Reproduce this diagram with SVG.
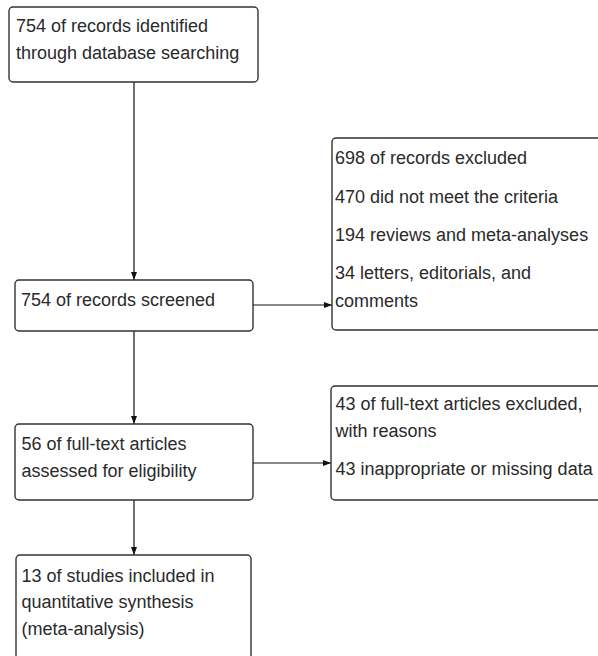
<svg xmlns="http://www.w3.org/2000/svg" width="598" height="656" viewBox="0 0 598 656">
<defs>
<style>
.box{fill:#fff;stroke:#333;stroke-width:1.4}
.t{font-family:"Liberation Sans",Arial,sans-serif;font-size:18px;fill:#2a2a2a}
.c{stroke:#111;stroke-width:1.2;fill:none}
</style>
<marker id="ah" markerWidth="8" markerHeight="8" refX="8" refY="4" orient="auto" markerUnits="userSpaceOnUse">
<path d="M0,1 L8,4 L0,7 Z" fill="#111"/>
</marker>
</defs>
<rect width="598" height="656" fill="#fff"/>
<g id="connectors">
<line class="c" x1="134" y1="82" x2="134" y2="280" marker-end="url(#ah)"/>
<line class="c" x1="253" y1="305" x2="332" y2="305" marker-end="url(#ah)"/>
<line class="c" x1="134" y1="331" x2="134" y2="424" marker-end="url(#ah)"/>
<line class="c" x1="253" y1="463" x2="331" y2="463" marker-end="url(#ah)"/>
<line class="c" x1="134" y1="500" x2="134" y2="555" marker-end="url(#ah)"/>
</g>
<g id="n1">
<rect class="box" x="9" y="7" width="249" height="75" rx="4"/>
<text class="t" x="16" y="31.5">754 of records identified</text>
<text class="t" x="16" y="59">through database searching</text>
</g>
<g id="n2">
<rect class="box" x="15" y="280" width="238" height="51" rx="4"/>
<text class="t" x="21" y="306">754 of records screened</text>
</g>
<g id="n3">
<rect class="box" x="332" y="138" width="275" height="192" rx="4"/>
<text class="t" x="335" y="164">698 of records excluded</text>
<text class="t" x="335" y="202.5">470 did not meet the criteria</text>
<text class="t" x="335" y="241">194 reviews and meta-analyses</text>
<text class="t" x="335" y="279">34 letters, editorials, and</text>
<text class="t" x="335" y="306.5">comments</text>
</g>
<g id="n4">
<rect class="box" x="15" y="424" width="238" height="76" rx="4"/>
<text class="t" x="21.5" y="450">56 of full-text articles</text>
<text class="t" x="21.5" y="477">assessed for eligibility</text>
</g>
<g id="n5">
<rect class="box" x="331" y="386" width="276" height="114" rx="4"/>
<text class="t" x="335.5" y="410">43 of full-text articles excluded,</text>
<text class="t" x="335.5" y="437">with reasons</text>
<text class="t" x="335.5" y="475">43 inappropriate or missing data</text>
</g>
<g id="n6">
<rect class="box" x="16" y="555" width="235" height="110" rx="4"/>
<text class="t" x="21.5" y="581.5">13 of studies included in</text>
<text class="t" x="21.5" y="608">quantitative synthesis</text>
<text class="t" x="21.5" y="635">(meta-analysis)</text>
</g>
</svg>
